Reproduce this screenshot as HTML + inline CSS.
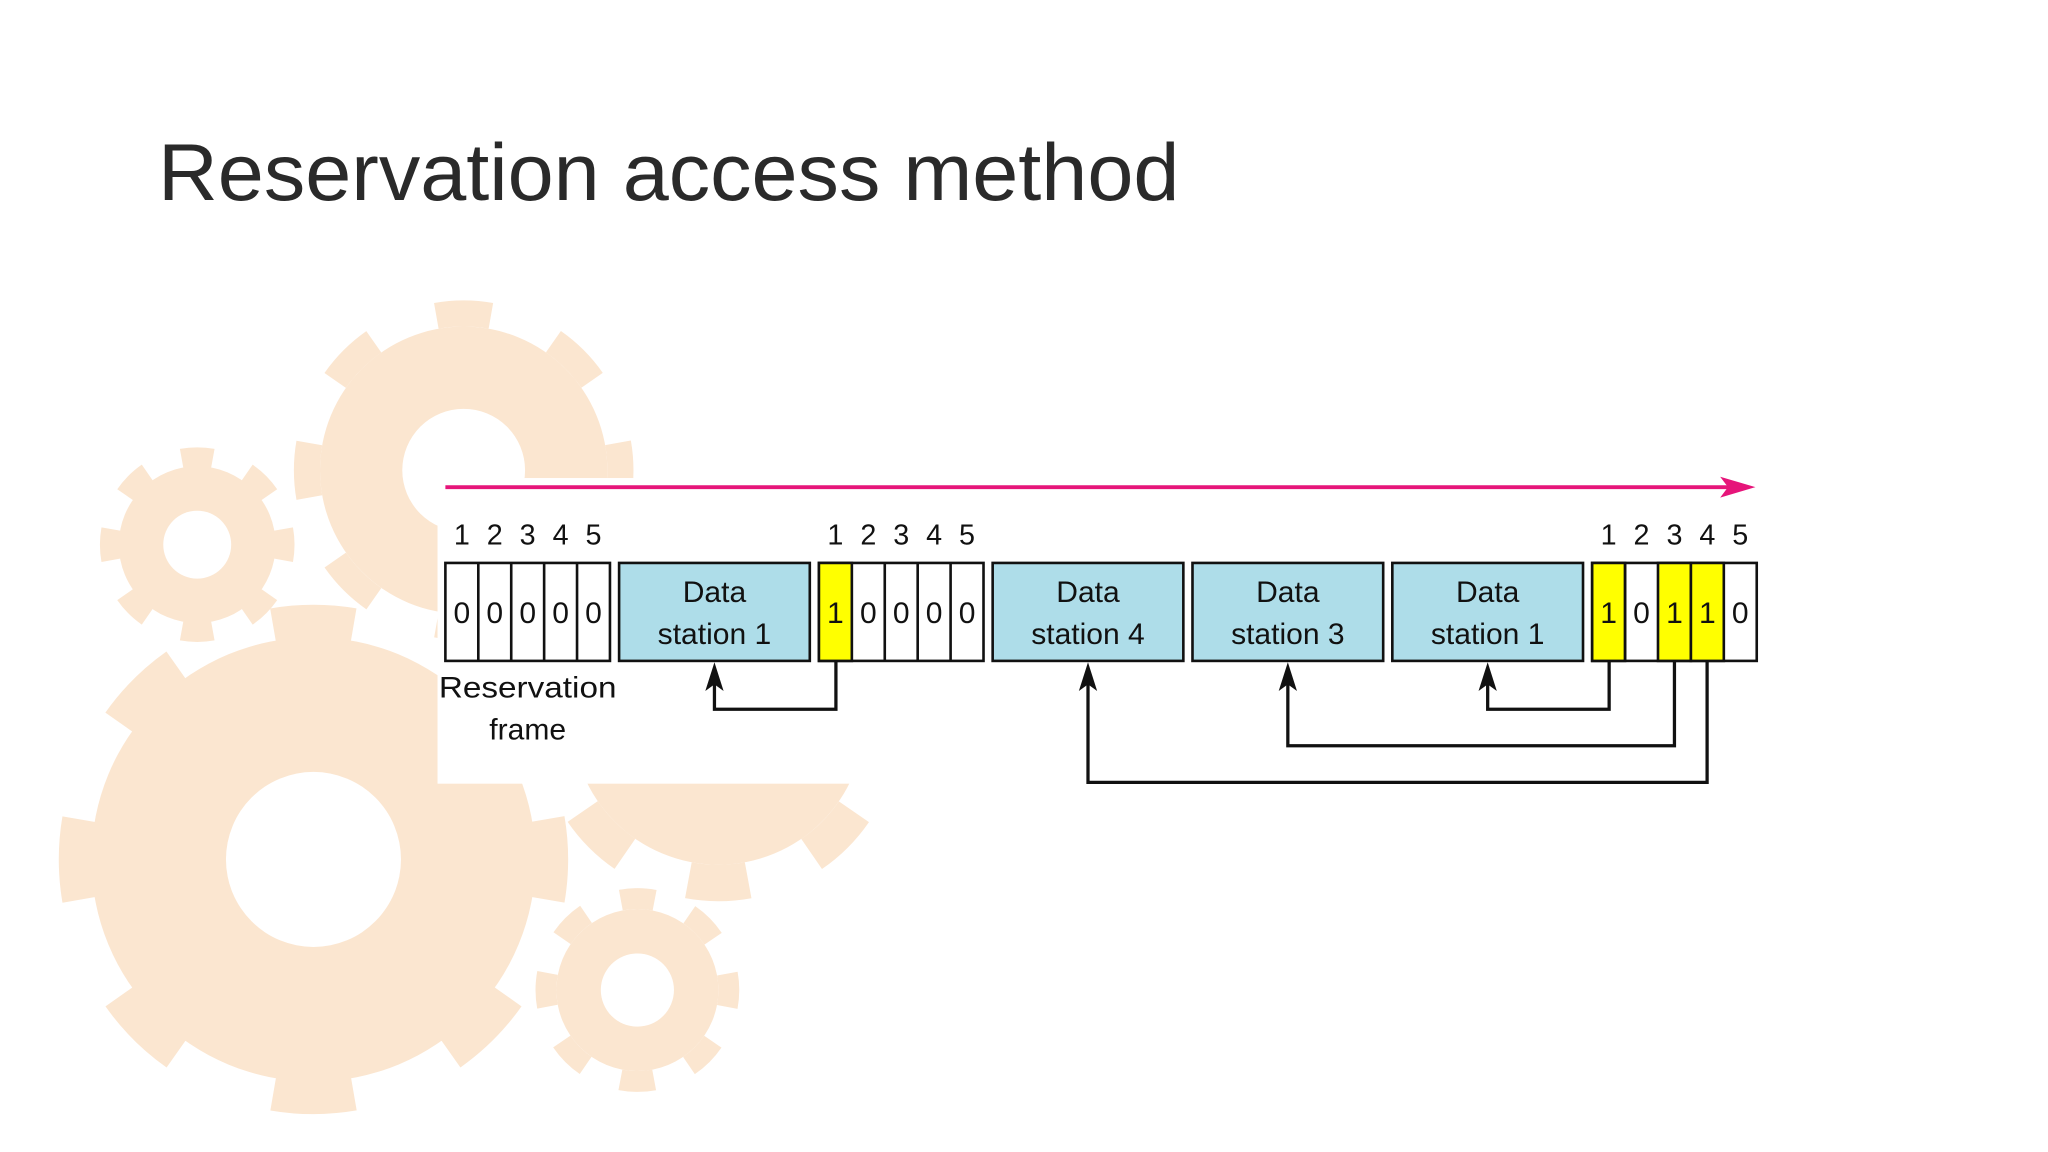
<!DOCTYPE html>
<html><head><meta charset="utf-8"><style>
html,body{margin:0;padding:0;background:#fff;}
svg{display:block;}
</style></head><body>
<svg width="2048" height="1152" viewBox="0 0 1568 882" xmlns="http://www.w3.org/2000/svg">
<rect width="1568" height="882" fill="#ffffff"/>
<g fill="#fbe6d0" stroke="#fbe6d0">
  <circle cx="240" cy="658" r="170" stroke="none"/>
  <circle cx="240" cy="658" r="182" fill="none" stroke-width="26" stroke-dasharray="62 80.9" stroke-dashoffset="31"/>
  <circle cx="355" cy="360" r="110" stroke="none"/>
  <circle cx="355" cy="360" r="120" fill="none" stroke-width="20" stroke-dasharray="42 52.2" stroke-dashoffset="21"/>
  <circle cx="151" cy="417" r="60" stroke="none"/>
  <circle cx="151" cy="417" r="67" fill="none" stroke-width="15" stroke-dasharray="24 28.6" stroke-dashoffset="12"/>
  <circle cx="488" cy="758" r="62" stroke="none"/>
  <circle cx="488" cy="758" r="70" fill="none" stroke-width="16" stroke-dasharray="26 29" stroke-dashoffset="13"/>
  <circle cx="550" cy="550" r="112" stroke="none"/>
  <circle cx="550" cy="550" r="126" fill="none" stroke-width="28" stroke-dasharray="46 52.96" stroke-dashoffset="23"/>
</g>
<g fill="#ffffff">
  <circle cx="240" cy="658" r="67"/>
  <circle cx="355" cy="360" r="47"/>
  <circle cx="151" cy="417" r="26"/>
  <circle cx="488" cy="758" r="28"/>
</g>
<rect x="335" y="366" width="1233" height="234" fill="#ffffff"/>

<text x="121" y="153" font-family="Liberation Sans, sans-serif" font-size="62" fill="#2a2a2a" textLength="782" lengthAdjust="spacingAndGlyphs">Reservation access method</text>

<line x1="341" y1="373" x2="1325" y2="373" stroke="#e6157a" stroke-width="3"/>
<polygon points="1344,373 1317,365 1323,373 1317,381" fill="#e6157a"/>

<g font-family="Liberation Sans, sans-serif" font-size="22" fill="#111" text-anchor="middle">
  <text x="353.6" y="417">1</text><text x="378.8" y="417">2</text><text x="404" y="417">3</text><text x="429.2" y="417">4</text><text x="454.4" y="417">5</text>
  <text x="639.6" y="417">1</text><text x="664.8" y="417">2</text><text x="690" y="417">3</text><text x="715.2" y="417">4</text><text x="740.4" y="417">5</text>
  <text x="1231.6" y="417">1</text><text x="1256.8" y="417">2</text><text x="1282" y="417">3</text><text x="1307.2" y="417">4</text><text x="1332.4" y="417">5</text>
</g>

<g stroke="#111" stroke-width="2">
  <rect x="341" y="431" width="126" height="75" fill="#fff"/>
  <line x1="366.2" y1="431" x2="366.2" y2="506"/><line x1="391.4" y1="431" x2="391.4" y2="506"/><line x1="416.6" y1="431" x2="416.6" y2="506"/><line x1="441.8" y1="431" x2="441.8" y2="506"/>
  <rect x="474" y="431" width="146" height="75" fill="#aedde9"/>
  <rect x="627" y="431" width="126" height="75" fill="#fff"/>
  <rect x="627" y="431" width="25.2" height="75" fill="#ffff00"/>
  <line x1="677.4" y1="431" x2="677.4" y2="506"/><line x1="702.6" y1="431" x2="702.6" y2="506"/><line x1="727.8" y1="431" x2="727.8" y2="506"/>
  <rect x="760" y="431" width="146" height="75" fill="#aedde9"/>
  <rect x="913" y="431" width="146" height="75" fill="#aedde9"/>
  <rect x="1066" y="431" width="146" height="75" fill="#aedde9"/>
  <rect x="1219" y="431" width="126" height="75" fill="#fff"/>
  <rect x="1219" y="431" width="25.2" height="75" fill="#ffff00"/>
  <rect x="1269.4" y="431" width="25.2" height="75" fill="#ffff00"/>
  <rect x="1294.6" y="431" width="25.2" height="75" fill="#ffff00"/>
  <line x1="1244.2" y1="431" x2="1244.2" y2="506"/>
</g>

<g font-family="Liberation Sans, sans-serif" font-size="23" fill="#111" text-anchor="middle">
  <text x="353.6" y="477">0</text><text x="378.8" y="477">0</text><text x="404" y="477">0</text><text x="429.2" y="477">0</text><text x="454.4" y="477">0</text>
  <text x="639.6" y="477">1</text><text x="664.8" y="477">0</text><text x="690" y="477">0</text><text x="715.2" y="477">0</text><text x="740.4" y="477">0</text>
  <text x="1231.6" y="477">1</text><text x="1256.8" y="477">0</text><text x="1282" y="477">1</text><text x="1307.2" y="477">1</text><text x="1332.4" y="477">0</text>
  <text x="547" y="461">Data</text><text x="547" y="493">station 1</text>
  <text x="833" y="461">Data</text><text x="833" y="493">station 4</text>
  <text x="986" y="461">Data</text><text x="986" y="493">station 3</text>
  <text x="1139" y="461">Data</text><text x="1139" y="493">station 1</text>
  <text x="404" y="534" textLength="136" lengthAdjust="spacingAndGlyphs">Reservation</text><text x="404" y="566">frame</text>
</g>

<g fill="none" stroke="#111" stroke-width="2.5">
  <polyline points="640,506 640,543 547,543 547,516"/>
  <polyline points="1232,506 1232,543 1139,543 1139,516"/>
  <polyline points="1282,506 1282,571 986,571 986,516"/>
  <polyline points="1307,506 1307,599 833,599 833,516"/>
</g>
<g fill="#111">
  <polygon points="547,507 554,529 547,524 540,529"/>
  <polygon points="1139,507 1146,529 1139,524 1132,529"/>
  <polygon points="986,507 993,529 986,524 979,529"/>
  <polygon points="833,507 840,529 833,524 826,529"/>
</g>
</svg>
</body></html>
